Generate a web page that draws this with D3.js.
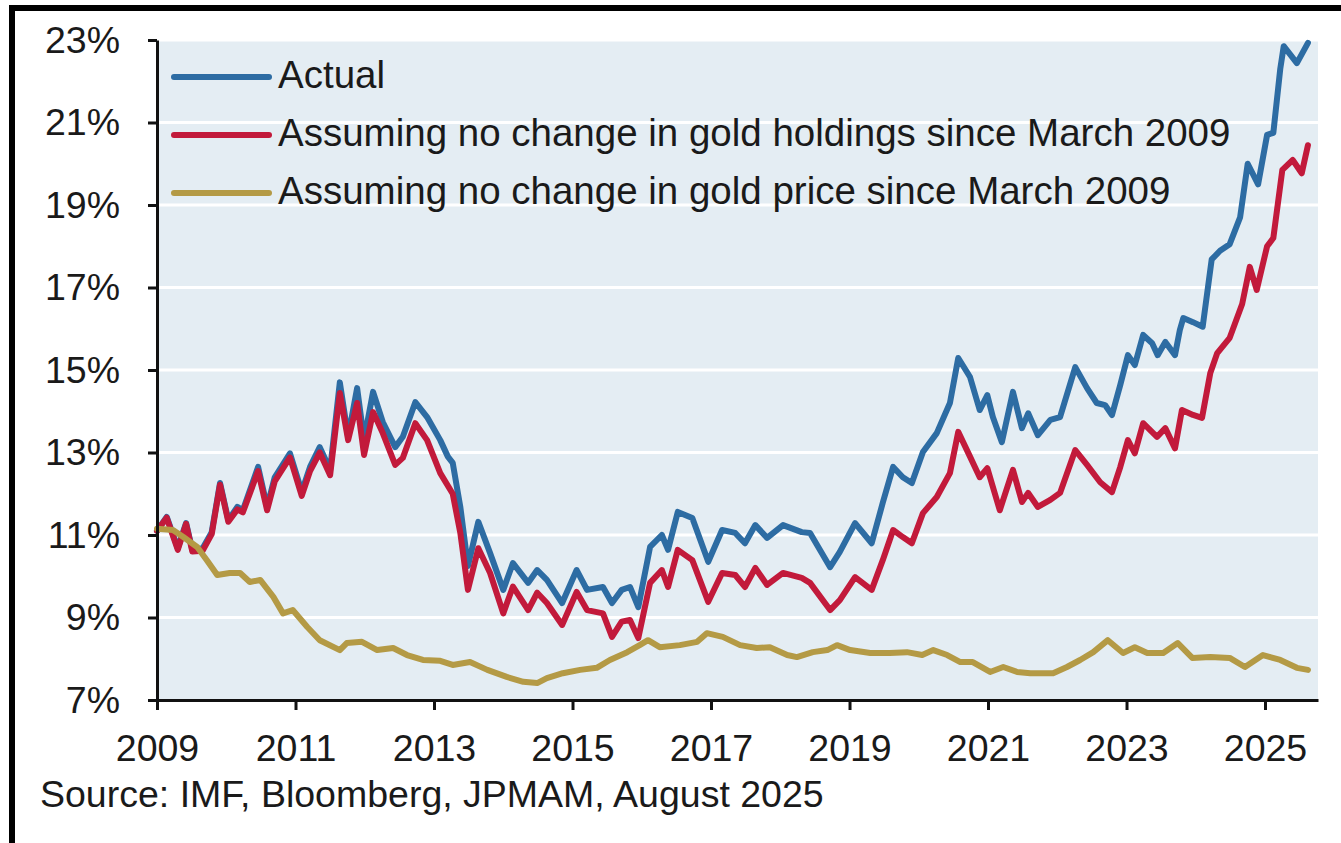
<!DOCTYPE html>
<html>
<head>
<meta charset="utf-8">
<script src="https://cdn.jsdelivr.net/npm/d3@7"></script>
<style>
  html, body { margin: 0; padding: 0; background: #fff; }
  svg { display: block; font-family: "Liberation Sans", Arial, sans-serif; }
  .tick text { fill: #1a1a1a; }
</style>
</head>
<body>
<div id="chart"></div>
<script>
// Reserve share in gold (%); x = decimal year
const actual = [
  [2009.00, 11.10], [2009.14, 11.44], [2009.30, 10.68], [2009.42, 11.29], [2009.51, 10.64],
  [2009.66, 10.68], [2009.79, 11.07], [2009.91, 12.26], [2010.03, 11.36], [2010.16, 11.68],
  [2010.24, 11.60], [2010.46, 12.65], [2010.59, 11.68], [2010.70, 12.40], [2010.92, 12.98],
  [2011.09, 12.05], [2011.21, 12.65], [2011.35, 13.13], [2011.50, 12.58], [2011.64, 14.70],
  [2011.76, 13.38], [2011.89, 14.56], [2011.99, 13.30], [2012.12, 14.47], [2012.26, 13.74],
  [2012.44, 13.13], [2012.55, 13.38], [2012.73, 14.22], [2012.90, 13.86], [2013.09, 13.30],
  [2013.20, 12.90], [2013.27, 12.75], [2013.38, 11.68], [2013.49, 10.25], [2013.64, 11.32],
  [2013.81, 10.56], [2014.00, 9.67], [2014.14, 10.32], [2014.36, 9.84], [2014.49, 10.15],
  [2014.63, 9.91], [2014.85, 9.35], [2015.06, 10.15], [2015.21, 9.67], [2015.44, 9.74],
  [2015.57, 9.35], [2015.71, 9.67], [2015.83, 9.74], [2015.95, 9.25], [2016.12, 10.71],
  [2016.29, 11.00], [2016.38, 10.64], [2016.52, 11.56], [2016.73, 11.41], [2016.96, 10.35],
  [2017.16, 11.12], [2017.35, 11.05], [2017.49, 10.80], [2017.64, 11.24], [2017.81, 10.93],
  [2018.04, 11.24], [2018.31, 11.07], [2018.43, 11.05], [2018.72, 10.22], [2018.86, 10.59],
  [2019.08, 11.29], [2019.32, 10.80], [2019.48, 11.78], [2019.63, 12.65], [2019.77, 12.40],
  [2019.90, 12.26], [2020.06, 13.01], [2020.26, 13.47], [2020.45, 14.20], [2020.57, 15.29],
  [2020.74, 14.83], [2020.88, 14.03], [2020.99, 14.39], [2021.07, 13.86], [2021.20, 13.25],
  [2021.36, 14.47], [2021.49, 13.59], [2021.58, 13.95], [2021.72, 13.42], [2021.90, 13.79],
  [2022.04, 13.86], [2022.26, 15.07], [2022.43, 14.56], [2022.57, 14.20], [2022.69, 14.15],
  [2022.79, 13.91], [2022.91, 14.64], [2023.02, 15.36], [2023.12, 15.12], [2023.24, 15.85],
  [2023.37, 15.65], [2023.45, 15.36], [2023.56, 15.68], [2023.70, 15.36], [2023.77, 15.97],
  [2023.82, 16.26], [2023.96, 16.16], [2024.10, 16.05], [2024.23, 17.68], [2024.35, 17.89],
  [2024.49, 18.05], [2024.64, 18.70], [2024.75, 20.00], [2024.90, 19.50], [2025.03, 20.70],
  [2025.12, 20.75], [2025.22, 22.30], [2025.27, 22.85], [2025.46, 22.44], [2025.62, 22.93]
];

const noHoldingsChange = [
  [2009.00, 11.10], [2009.14, 11.42], [2009.30, 10.64], [2009.42, 11.27], [2009.51, 10.60],
  [2009.66, 10.62], [2009.79, 11.02], [2009.91, 12.22], [2010.03, 11.32], [2010.16, 11.62],
  [2010.24, 11.55], [2010.46, 12.55], [2010.59, 11.60], [2010.70, 12.30], [2010.92, 12.88],
  [2011.09, 11.95], [2011.21, 12.55], [2011.35, 13.00], [2011.50, 12.45], [2011.64, 14.44],
  [2011.76, 13.30], [2011.89, 14.20], [2011.99, 12.94], [2012.12, 13.98], [2012.26, 13.47],
  [2012.44, 12.70], [2012.55, 12.87], [2012.73, 13.71], [2012.90, 13.30], [2013.09, 12.50],
  [2013.27, 12.00], [2013.38, 11.05], [2013.49, 9.67], [2013.64, 10.68], [2013.81, 10.08],
  [2014.00, 9.10], [2014.14, 9.75], [2014.36, 9.18], [2014.49, 9.60], [2014.63, 9.35],
  [2014.85, 8.82], [2015.06, 9.62], [2015.21, 9.18], [2015.44, 9.10], [2015.57, 8.53],
  [2015.71, 8.90], [2015.83, 8.94], [2015.95, 8.50], [2016.12, 9.84], [2016.29, 10.15],
  [2016.38, 9.74], [2016.52, 10.64], [2016.73, 10.39], [2016.96, 9.38], [2017.16, 10.08],
  [2017.35, 10.03], [2017.49, 9.74], [2017.64, 10.20], [2017.81, 9.79], [2018.04, 10.08],
  [2018.31, 9.96], [2018.43, 9.84], [2018.72, 9.18], [2018.86, 9.42], [2019.08, 9.98],
  [2019.32, 9.67], [2019.48, 10.39], [2019.63, 11.12], [2019.77, 10.95], [2019.90, 10.80],
  [2020.06, 11.53], [2020.26, 11.92], [2020.45, 12.50], [2020.57, 13.50], [2020.74, 12.90],
  [2020.88, 12.40], [2020.99, 12.62], [2021.17, 11.60], [2021.36, 12.58], [2021.49, 11.80],
  [2021.58, 12.02], [2021.72, 11.68], [2021.90, 11.85], [2022.04, 12.02], [2022.26, 13.06],
  [2022.43, 12.70], [2022.62, 12.28], [2022.79, 12.04], [2022.91, 12.65], [2023.02, 13.30],
  [2023.12, 12.98], [2023.24, 13.71], [2023.44, 13.38], [2023.56, 13.59], [2023.70, 13.10],
  [2023.80, 14.03], [2023.96, 13.91], [2024.09, 13.84], [2024.21, 14.93], [2024.31, 15.41],
  [2024.49, 15.78], [2024.67, 16.60], [2024.78, 17.50], [2024.88, 16.94], [2025.03, 18.00],
  [2025.12, 18.20], [2025.25, 19.85], [2025.40, 20.09], [2025.53, 19.77], [2025.62, 20.45]
];

const noPriceChange = [
  [2009.00, 11.15], [2009.23, 11.12], [2009.38, 10.95], [2009.58, 10.71], [2009.72, 10.39],
  [2009.87, 10.03], [2010.05, 10.08], [2010.20, 10.08], [2010.34, 9.86], [2010.49, 9.91],
  [2010.68, 9.50], [2010.82, 9.10], [2010.96, 9.18], [2011.17, 8.77], [2011.35, 8.45],
  [2011.64, 8.21], [2011.74, 8.38], [2011.96, 8.41], [2012.18, 8.21], [2012.41, 8.26],
  [2012.61, 8.09], [2012.84, 7.97], [2013.09, 7.95], [2013.27, 7.85], [2013.52, 7.92],
  [2013.77, 7.73], [2014.05, 7.56], [2014.29, 7.44], [2014.49, 7.41], [2014.63, 7.53],
  [2014.86, 7.65], [2015.11, 7.73], [2015.35, 7.78], [2015.54, 7.97], [2015.79, 8.16],
  [2015.97, 8.33], [2016.09, 8.45], [2016.26, 8.28], [2016.55, 8.33], [2016.80, 8.41],
  [2016.94, 8.62], [2017.17, 8.53], [2017.42, 8.33], [2017.66, 8.26], [2017.85, 8.28],
  [2018.10, 8.09], [2018.24, 8.04], [2018.47, 8.16], [2018.68, 8.21], [2018.82, 8.33],
  [2019.01, 8.21], [2019.30, 8.14], [2019.58, 8.14], [2019.83, 8.16], [2020.05, 8.09],
  [2020.21, 8.21], [2020.41, 8.09], [2020.60, 7.92], [2020.78, 7.92], [2021.03, 7.68],
  [2021.22, 7.80], [2021.42, 7.68], [2021.61, 7.65], [2021.94, 7.65], [2022.14, 7.80],
  [2022.33, 7.97], [2022.52, 8.16], [2022.73, 8.45], [2022.95, 8.14], [2023.12, 8.28],
  [2023.30, 8.14], [2023.53, 8.14], [2023.74, 8.38], [2023.95, 8.02], [2024.21, 8.04],
  [2024.49, 8.02], [2024.71, 7.80], [2024.97, 8.09], [2025.22, 7.97], [2025.46, 7.78],
  [2025.62, 7.73]
];

const yTicks = [7, 9, 11, 13, 15, 17, 19, 21, 23];
const xTicks = [2009, 2011, 2013, 2015, 2017, 2019, 2021, 2023, 2025];
const seriesNames = [
  'Actual',
  'Assuming no change in gold holdings since March 2009',
  'Assuming no change in gold price since March 2009'
];
const seriesColors = ['#2d6ca3', '#c21a3b', '#b49a45'];
const sourceText = 'Source: IMF, Bloomberg, JPMAM, August 2025';

const w = 1341, h = 843;
const m = { left: 157, right: 1318, top: 40, bottom: 700 };

const svg = d3.select('#chart').append('svg')
  .attr('width', w)
  .attr('height', h);

// black frame (top and left edges of the screenshot)
svg.append('rect').attr('x', 9).attr('y', 5).attr('width', w - 9).attr('height', 6).attr('fill', '#000');
svg.append('rect').attr('x', 9).attr('y', 5).attr('width', 6).attr('height', h - 5).attr('fill', '#000');

const x = d3.scaleLinear().domain([2009, 2025.765]).range([m.left, m.right]);
const y = d3.scaleLinear().domain([7, 23]).range([m.bottom, m.top]);

// plot background
svg.append('rect')
  .attr('x', m.left).attr('y', m.top)
  .attr('width', m.right - m.left).attr('height', m.bottom - m.top)
  .attr('fill', '#e4edf3');

// white gridlines
svg.append('g')
  .selectAll('line')
  .data(yTicks.filter(d => d > 7))
  .join('line')
  .attr('x1', m.left).attr('x2', m.right)
  .attr('y1', d => y(d)).attr('y2', d => y(d))
  .attr('stroke', '#fff')
  .attr('stroke-width', 3);

// series lines
const line = d3.line().x(d => x(d[0])).y(d => y(d[1]));
const series = [actual, noHoldingsChange, noPriceChange];

svg.append('g')
  .selectAll('path')
  .data(series)
  .join('path')
  .attr('d', line)
  .attr('fill', 'none')
  .attr('stroke', (d, i) => seriesColors[i])
  .attr('stroke-width', 6)
  .attr('stroke-linejoin', 'round')
  .attr('stroke-linecap', 'round');

// axes
const yAxis = d3.axisLeft(y)
  .tickValues(yTicks)
  .tickSize(9)
  .tickSizeOuter(0)
  .tickPadding(28)
  .tickFormat(d => d + '%');

const xAxis = d3.axisBottom(x)
  .tickValues(xTicks)
  .tickSize(10)
  .tickSizeOuter(0)
  .tickPadding(24)
  .tickFormat(d3.format('d'));

const gy = svg.append('g')
  .attr('transform', `translate(${m.left},0)`)
  .call(yAxis);

const gx = svg.append('g')
  .attr('transform', `translate(0,${m.bottom})`)
  .call(xAxis);

[gx, gy].forEach(g => {
  g.select('.domain').attr('stroke', '#111').attr('stroke-width', 3);
  g.selectAll('.tick line').attr('stroke', '#111').attr('stroke-width', 3);
  g.selectAll('.tick text').attr('font-size', 37.5).attr('font-family', '"Liberation Sans", Arial, sans-serif');
});

// legend
const legend = svg.append('g')
  .selectAll('g')
  .data(seriesNames)
  .join('g')
  .attr('transform', (d, i) => `translate(0,${77 + i * 58})`);

legend.append('line')
  .attr('x1', 174).attr('x2', 269)
  .attr('stroke', (d, i) => seriesColors[i])
  .attr('stroke-width', 6)
  .attr('stroke-linecap', 'round');

legend.append('text')
  .attr('x', 278)
  .attr('y', 11)
  .attr('font-size', 38.5)
  .attr('fill', '#1a1a1a')
  .text(d => d);

// source
svg.append('text')
  .attr('x', 40)
  .attr('y', 807)
  .attr('font-size', 37.5)
  .attr('fill', '#1a1a1a')
  .text(sourceText);
</script>
</body>
</html>
